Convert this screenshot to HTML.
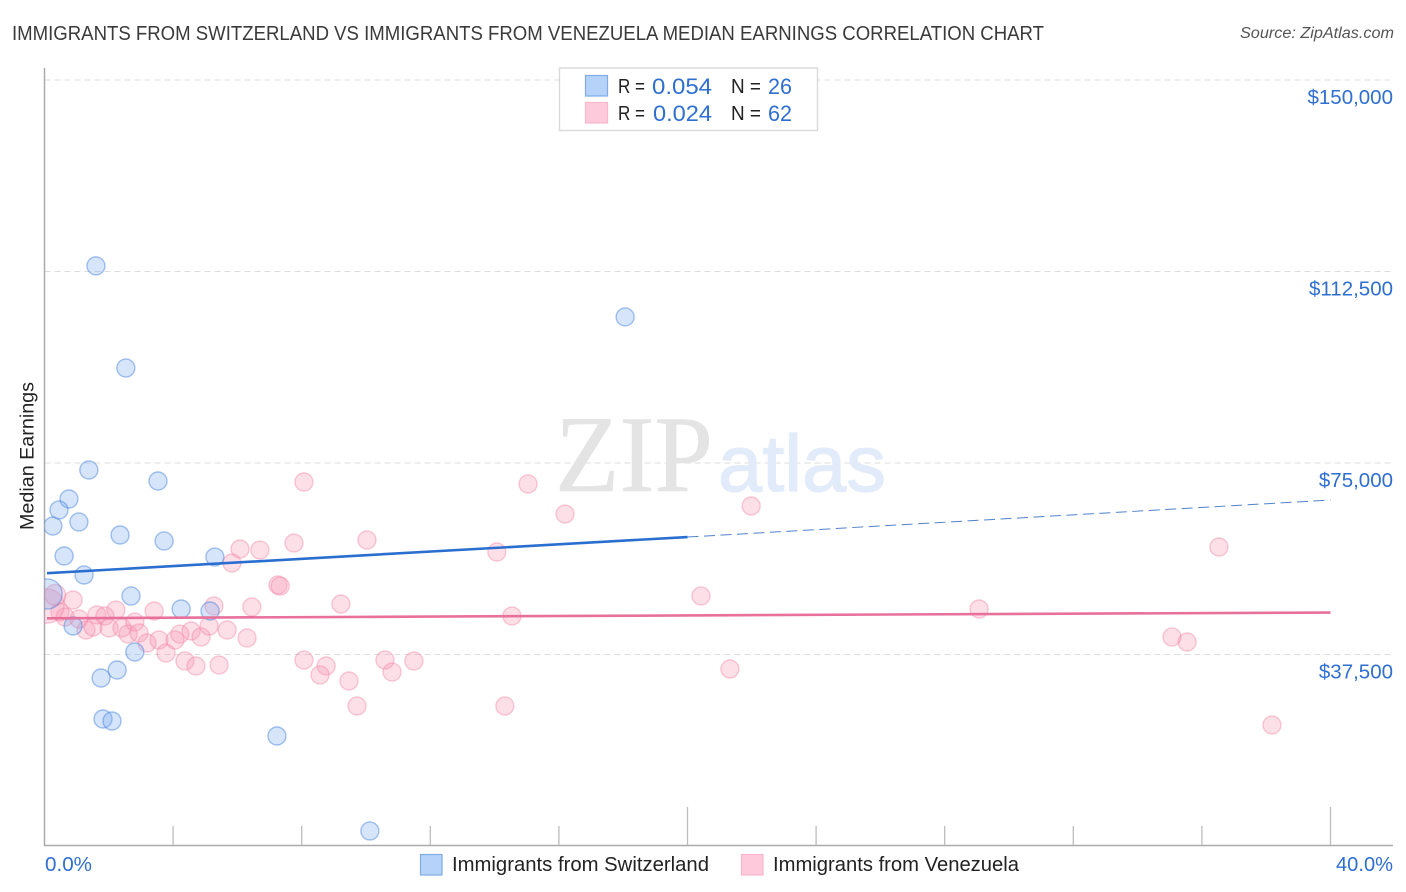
<!DOCTYPE html>
<html lang="en">
<head>
<meta charset="utf-8">
<title>Immigrants from Switzerland vs Immigrants from Venezuela Median Earnings Correlation Chart</title>
<style>
html,body{margin:0;padding:0;background:#fff;}
svg{display:block;font-family:"Liberation Sans",Arial,sans-serif;}
</style>
</head>
<body>
<svg id="chart" xmlns="http://www.w3.org/2000/svg" width="1406" height="892" viewBox="0 0 1406 892">
  <defs>
    <clipPath id="plot-clip"><rect x="44.5" y="60" width="1350" height="786"/></clipPath>
  </defs>
  <rect x="0" y="0" width="1406" height="892" fill="#ffffff"/>
  <text x="12" y="40" font-size="20" fill="#3a3a3a" textLength="1032" lengthAdjust="spacingAndGlyphs">IMMIGRANTS FROM SWITZERLAND VS IMMIGRANTS FROM VENEZUELA MEDIAN EARNINGS CORRELATION CHART</text>
  <text x="1394" y="38" font-size="15.5" font-style="italic" fill="#555" text-anchor="end" textLength="154" lengthAdjust="spacingAndGlyphs">Source: ZipAtlas.com</text>

  <g id="grid"></g>

  <g>
    <text x="555" y="491" font-family="'Liberation Serif',serif" font-size="109" fill="#e4e4e4" stroke="#e4e4e4" stroke-width="0.6" textLength="158" lengthAdjust="spacingAndGlyphs">ZIP</text>
    <text x="718" y="491" font-size="80" fill="#e2ebf9" stroke="#e2ebf9" stroke-width="1.2" textLength="168" lengthAdjust="spacingAndGlyphs">atlas</text>
  </g>

  <g id="axes"></g>
  <g id="points" clip-path="url(#plot-clip)"></g>
  <g id="trends"></g>
  <g id="labels"></g>

  <text transform="translate(33.5,456) rotate(-90)" font-size="19" fill="#222" text-anchor="middle" textLength="148" lengthAdjust="spacingAndGlyphs">Median Earnings</text>

  <g>
    <rect x="559.5" y="68" width="258" height="62.5" fill="#ffffff" stroke="#d9d9d9" stroke-width="1.4"/>
    <rect x="585.5" y="75.5" width="22" height="20.5" fill="#b5d2f8" stroke="#80ace6" stroke-width="1.2"/>
    <rect x="585.5" y="102.5" width="22" height="20.5" fill="#fccadb" stroke="#f9b6cd" stroke-width="1.2"/>
    <g font-size="20" fill="#222">
      <text x="618" y="93" textLength="27" lengthAdjust="spacingAndGlyphs">R =</text>
      <text x="652" y="94" font-size="22" fill="#2f6fd2" textLength="60" lengthAdjust="spacingAndGlyphs">0.054</text>
      <text x="731" y="93" textLength="30" lengthAdjust="spacingAndGlyphs">N =</text>
      <text x="768" y="94" font-size="22" fill="#2f6fd2" textLength="24" lengthAdjust="spacingAndGlyphs">26</text>
      <text x="618" y="120" textLength="27" lengthAdjust="spacingAndGlyphs">R =</text>
      <text x="653" y="121" font-size="22" fill="#2f6fd2" textLength="59" lengthAdjust="spacingAndGlyphs">0.024</text>
      <text x="731" y="120" textLength="30" lengthAdjust="spacingAndGlyphs">N =</text>
      <text x="768" y="121" font-size="22" fill="#2f6fd2" textLength="24" lengthAdjust="spacingAndGlyphs">62</text>
    </g>
  </g>

  <g>
    <rect x="420.5" y="854.5" width="21.5" height="20.5" fill="#b5d2f8" stroke="#80ace6" stroke-width="1.2"/>
    <text x="452" y="871" font-size="20" fill="#222" textLength="257" lengthAdjust="spacingAndGlyphs">Immigrants from Switzerland</text>
    <rect x="741.5" y="854.5" width="21.5" height="20.5" fill="#fccadb" stroke="#f9b6cd" stroke-width="1.2"/>
    <text x="773" y="871" font-size="20" fill="#222" textLength="246" lengthAdjust="spacingAndGlyphs">Immigrants from Venezuela</text>
  </g>
</svg>
<script>
// Chart data
const yTickValues = [37500, 75000, 112500, 150000];
const yTickLabels = ["$37,500", "$75,000", "$112,500", "$150,000"];
const xTickValues = [4, 8, 12, 16, 20, 24, 28, 32, 36, 40];
const xMajorTickValues = [20, 40];
const xEdgeLabels = ["0.0%", "40.0%"];

const switzerlandRate = [1.60,18.06,2.53,1.38,3.53,0.76,0.45,1.07,0.26,2.35,3.72,5.30,0.61,1.23,2.69,4.25,5.15,0.89,2.81,2.26,1.76,1.82,2.10,7.23,10.12,0.08];
const switzerlandEarnings = [113600,103600,93600,73630,71475,67950,65800,63450,62660,60900,59730,56590,56790,53070,48960,46410,46020,43080,37990,34465,32900,24870,24480,21540,2940,49350];
const switzerlandWeight = [1,1,1,1,1,1,1,1,1,1,1,1,1,1,1,1,1,1,1,1,1,1,1,1,1,2.8];

const venezuelaRate = [0.89,0.48,0.64,1.07,1.29,1.51,1.63,1.88,2.22,2.01,2.41,2.60,2.81,2.94,3.19,3.41,3.56,3.78,4.06,4.21,4.37,4.56,4.71,4.87,5.12,5.27,5.43,5.68,6.30,6.45,5.83,6.08,6.70,7.26,7.33,7.76,8.07,15.04,16.19,21.98,10.03,14.07,36.53,9.22,14.54,20.42,29.07,35.07,35.54,8.07,8.76,8.57,9.47,10.59,10.81,11.49,21.32,9.72,14.32,38.18,0.08,0.33];
const venezuelaEarnings = [48170,45820,44840,44450,42300,42885,45235,45040,46210,42690,42700,41510,43860,41710,39750,46020,40340,37790,40340,41510,36230,42100,35250,40930,43080,47000,35440,42300,40730,46800,55420,58160,57960,51110,50910,59330,71280,70890,65010,66580,59920,57570,58550,47390,45040,48960,46410,40930,39950,36420,35250,33490,32310,36420,34070,36230,34660,27415,27415,23695,47000,49150];
const venezuelaWeight = [1,1,1,1,1,1,1,1,1,1,1,1,1,1,1,1,1,1,1,1,1,1,1,1,1,1,1,1,1,1,1,1,1,1,1,1,1,1,1,1,1,1,1,1,1,1,1,1,1,1,1,1,1,1,1,1,1,1,1,1,3.6,1.36];

const switzerlandTrendRate = [0, 20, 40];
const switzerlandTrendEarnings = [53420, 60500, 67750];
const venezuelaTrendRate = [0, 40];
const venezuelaTrendEarnings = [44590, 45720];

// Axis functions
function xScale(rate) { return 44.5 + rate * 32.15; }
function yScale(value) { return 654.5 - (value - 37500) * 191.5 / 37500; }
function radius(weight) { return 9 * Math.sqrt(weight); }

const NS = 'http://www.w3.org/2000/svg';
function make(tag, parent, attrs) {
  const el = document.createElementNS(NS, tag);
  for (const k in attrs) el.setAttribute(k, attrs[k]);
  parent.appendChild(el);
  return el;
}

const grid = document.getElementById('grid');
const axes = document.getElementById('axes');
const pointsLayer = document.getElementById('points');
const trends = document.getElementById('trends');
const labels = document.getElementById('labels');

yTickValues.forEach(function (v, i) {
  const line = make('line', grid, {x1: 44.5, x2: 1393, y1: yScale(v), y2: yScale(v), stroke: '#dddddd', 'stroke-width': 1, 'stroke-dasharray': '6 4'});
  
  
  const label = make('text', labels, {x: 1393, y: yScale(v) + 24, 'font-size': 20.5, fill: '#2f6fd2', 'text-anchor': 'end'});
  label.textContent = yTickLabels[i];
  
  
});

const yAxis = make('line', axes, {x1: 44.5, x2: 44.5, y1: 68, y2: 846, stroke: '#aaaaaa', 'stroke-width': 1.5});


const xAxis = make('line', axes, {x1: 44, x2: 1393, y1: 845.5, y2: 845.5, stroke: '#aaaaaa', 'stroke-width': 1.5});



xTickValues.forEach(function (t) {
  const major = xMajorTickValues.indexOf(t) >= 0;
  const tick = make('line', axes, {x1: xScale(t), x2: xScale(t), y1: major ? 807 : 826, y2: 845, stroke: '#bcbcbc', 'stroke-width': 1.3});
  
  
});

const xLabelStart = make('text', labels, {x: 45, y: 871, 'font-size': 20, fill: '#2f6fd2', textLength: 47, lengthAdjust: 'spacingAndGlyphs'});
xLabelStart.textContent = xEdgeLabels[0];


const xLabelEnd = make('text', labels, {x: 1336, y: 871, 'font-size': 20, fill: '#2f6fd2', textLength: 57, lengthAdjust: 'spacingAndGlyphs'});
xLabelEnd.textContent = xEdgeLabels[1];



venezuelaRate.forEach(function (r, i) {
  const c = make('circle', pointsLayer, {cx: xScale(r), cy: yScale(venezuelaEarnings[i]), r: radius(venezuelaWeight[i]), fill: 'rgba(247,150,180,0.3)', stroke: 'rgba(240,130,165,0.42)', 'stroke-width': 1.4});
  
  
});
switzerlandRate.forEach(function (r, i) {
  const c = make('circle', pointsLayer, {cx: xScale(r), cy: yScale(switzerlandEarnings[i]), r: radius(switzerlandWeight[i]), fill: 'rgba(120,170,240,0.3)', stroke: 'rgba(60,125,220,0.45)', 'stroke-width': 1.4});
  
  
});

const blueSolid = make('line', trends, {x1: xScale(switzerlandTrendRate[0]) + 2.5, y1: yScale(switzerlandTrendEarnings[0]), x2: xScale(switzerlandTrendRate[1]), y2: yScale(switzerlandTrendEarnings[1]), stroke: '#2a6fd0', 'stroke-width': 2.6});


const blueDash = make('line', trends, {x1: xScale(switzerlandTrendRate[1]), y1: yScale(switzerlandTrendEarnings[1]), x2: xScale(switzerlandTrendRate[2]), y2: yScale(switzerlandTrendEarnings[2]), stroke: '#4f82cc', 'stroke-width': 1, 'stroke-dasharray': '11 5.5'});


const pinkLine = make('line', trends, {x1: xScale(venezuelaTrendRate[0]) + 2.5, y1: yScale(venezuelaTrendEarnings[0]), x2: xScale(venezuelaTrendRate[1]), y2: yScale(venezuelaTrendEarnings[1]), stroke: '#e8719c', 'stroke-width': 2.6});


</script>
</body>
</html>
